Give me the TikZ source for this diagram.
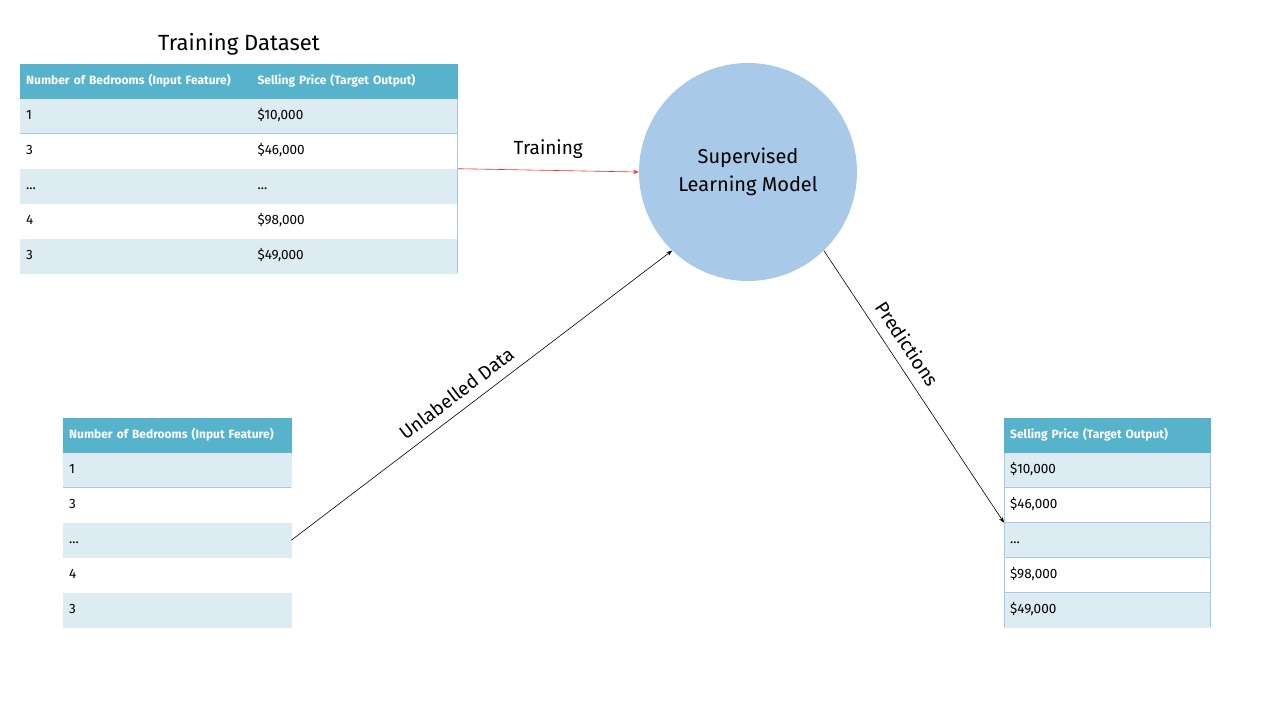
\documentclass[tikz,border=0pt]{standalone}
\usepackage{fontspec}
\setmainfont{Fira Sans}
\usetikzlibrary{arrows.meta,positioning}
\definecolor{headblue}{HTML}{57B3CC}
\definecolor{rowblue}{HTML}{DDEBF3}
\definecolor{modelblue}{HTML}{A8C9E7}
\definecolor{ruleblue}{HTML}{A6C8E6}
\tikzset{
    >=Stealth,
    cell/.style={inner xsep=6pt,inner ysep=0pt,minimum height=34.5pt,text width=#1,align=left,
        text height=1.6ex,text depth=.4ex,font=\fontsize{13.5}{16}\selectfont},
    head/.style={fill=headblue,draw=headblue,text=white,font=\bfseries\fontsize{12}{14}\selectfont},
    lite/.style={fill=rowblue,draw=rowblue},
    plain/.style={fill=white,draw=white},
    rule/.style={draw=ruleblue,line width=0.8pt},
    link/.style={->,line width=0.6pt},
    tag/.style={font=\fontsize{19}{22}\selectfont}
}

\begin{document}
\begin{tikzpicture}[x=1pt,y=-1pt]
    \useasboundingbox (0,0) rectangle (1280,720);

    % training table
    \node[font=\fontsize{22}{26}\selectfont] (title) at (239,44) {Training Dataset};
    \node[cell=219pt,head,anchor=north west] (t1h1) at (20,64) {Number of Bedrooms (Input Feature)};
    \node[cell=194pt,head,right=0pt of t1h1] (t1h2) {Selling Price (Target Output)};
    \node[cell=219pt,lite,below=0pt of t1h1] (t1c1) {1};
    \node[cell=194pt,lite,below=0pt of t1h2] (t1d1) {\$10,000};
    \node[cell=219pt,plain,below=0pt of t1c1] (t1c2) {3};
    \node[cell=194pt,plain,below=0pt of t1d1] (t1d2) {\$46,000};
    \node[cell=219pt,lite,below=0pt of t1c2] (t1c3) {...};
    \node[cell=194pt,lite,below=0pt of t1d2] (t1d3) {...};
    \node[cell=219pt,plain,below=0pt of t1c3] (t1c4) {4};
    \node[cell=194pt,plain,below=0pt of t1d3] (t1d4) {\$98,000};
    \node[cell=219pt,lite,below=0pt of t1c4] (t1c5) {3};
    \node[cell=194pt,lite,below=0pt of t1d4] (t1d5) {\$49,000};
    \draw[rule] (t1c1.south west) -- (t1d1.south east);
    \draw[rule] (t1d1.north east) -- (t1d5.south east);

    % unlabelled table
    \node[cell=216pt,head,anchor=north west] (t2h) at (63,418) {Number of Bedrooms (Input Feature)};
    \node[cell=216pt,lite,below=0pt of t2h] (t2c1) {1};
    \node[cell=216pt,plain,below=0pt of t2c1] (t2c2) {3};
    \node[cell=216pt,lite,below=0pt of t2c2] (t2c3) {...};
    \node[cell=216pt,plain,below=0pt of t2c3] (t2c4) {4};
    \node[cell=216pt,lite,below=0pt of t2c4] (t2c5) {3};
    \draw[rule] (t2c1.south west) -- (t2c1.south east);

    % predictions table
    \node[cell=194pt,head,anchor=north west] (t3h) at (1004,418) {Selling Price (Target Output)};
    \node[cell=194pt,lite,below=0pt of t3h] (t3c1) {\$10,000};
    \node[cell=194pt,plain,below=0pt of t3c1] (t3c2) {\$46,000};
    \node[cell=194pt,lite,below=0pt of t3c2] (t3c3) {...};
    \node[cell=194pt,plain,below=0pt of t3c3] (t3c4) {\$98,000};
    \node[cell=194pt,lite,below=0pt of t3c4] (t3c5) {\$49,000};
    \draw[rule] (t3c1.north west) -- (t3c5.south west);
    \draw[rule] (t3c1.north east) -- (t3c5.south east);
    \draw[rule] (t3c1.south west) -- (t3c1.south east);
    \draw[rule] (t3c2.south west) -- (t3c2.south east);
    \draw[rule] (t3c3.south west) -- (t3c3.south east);
    \draw[rule] (t3c4.south west) -- (t3c4.south east);

    % model
    \node[circle,fill=modelblue,minimum size=218pt,align=center,font=\fontsize{20}{28}\selectfont] (model) at (748,172) {Supervised\\Learning Model};

    \draw[link,draw=red!85] (t1d3.north east) -- node[tag,above=8pt] {Training} (model.west);
    \draw[link] (t2c3.east) -- node[tag,pos=0.46,sloped,above=6pt] {Unlabelled Data} (model.226);
    \draw[link] (model.314) -- node[tag,pos=0.38,sloped,above=7pt] {Predictions} (t3c3.north west);
\end{tikzpicture}
\end{document}
